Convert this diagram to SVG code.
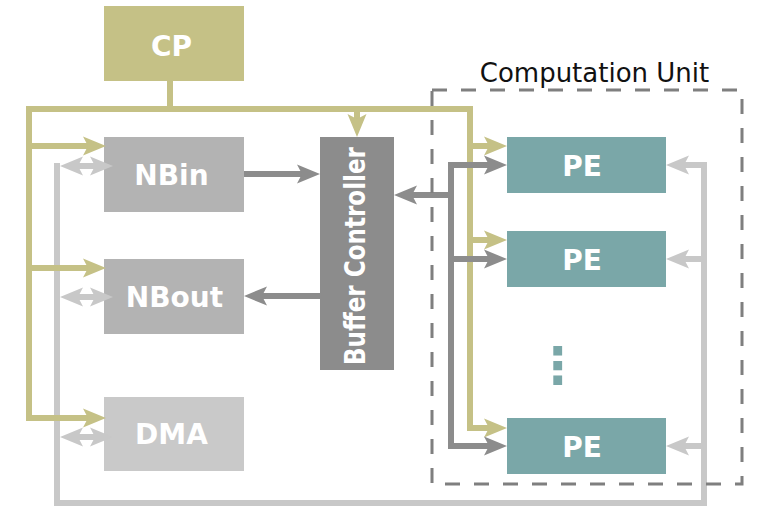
<svg xmlns="http://www.w3.org/2000/svg" width="765" height="519" viewBox="0 0 765 519">
<style>
.lbl{font-family:"DejaVu Sans","Liberation Sans",sans-serif;font-weight:bold;fill:#ffffff;text-anchor:middle}
.ol{fill:none;stroke:#c5c186;stroke-width:6}
.lg{fill:none;stroke:#c8c8c8;stroke-width:6}
.dg{fill:none;stroke:#8c8c8c;stroke-width:6}
.cap{font-family:"DejaVu Sans","Liberation Sans",sans-serif;font-size:26px;fill:#111111;text-anchor:middle}
</style>
<defs>
<marker id="aO" markerUnits="userSpaceOnUse" viewBox="-10 -12 32 24" markerWidth="32" markerHeight="24" refX="0" refY="0" orient="auto-start-reverse"><path d="M18,0 L-5,-9.5 L0,0 L-5,9.5 Z" fill="#c5c186"/></marker>
<marker id="aL" markerUnits="userSpaceOnUse" viewBox="-10 -12 32 24" markerWidth="32" markerHeight="24" refX="0" refY="0" orient="auto-start-reverse"><path d="M18,0 L-5,-9.5 L0,0 L-5,9.5 Z" fill="#c8c8c8"/></marker>
<marker id="aD" markerUnits="userSpaceOnUse" viewBox="-10 -12 32 24" markerWidth="32" markerHeight="24" refX="0" refY="0" orient="auto-start-reverse"><path d="M18,0 L-5,-9.5 L0,0 L-5,9.5 Z" fill="#8c8c8c"/></marker>
</defs>
<g id="nodes">
<g id="cp"><rect x="104" y="6" width="140" height="75" fill="#c5c186"/><text class="lbl" x="171.5" y="56" font-size="28">CP</text></g>
<g id="nbin"><rect x="104" y="137" width="140" height="75" fill="#b3b3b3"/><text class="lbl" x="171.5" y="184.5" font-size="28">NBin</text></g>
<g id="nbout"><rect x="104" y="259" width="140" height="75" fill="#b3b3b3"/><text class="lbl" x="174.5" y="306.5" font-size="28">NBout</text></g>
<g id="dma"><rect x="104" y="397" width="140" height="74" fill="#c9c9c9"/><text class="lbl" x="171.5" y="444" font-size="28">DMA</text></g>
<g id="buffer-controller"><rect x="320" y="137" width="74" height="233" fill="#8c8c8c"/><text class="lbl" transform="translate(365,256) rotate(-90)" x="0" y="0" font-size="29" textLength="218" lengthAdjust="spacingAndGlyphs">Buffer Controller</text></g>
<g id="pe1"><rect x="507" y="137" width="159" height="56" fill="#7aa7a8"/><text class="lbl" x="582" y="176" font-size="28">PE</text></g>
<g id="pe2"><rect x="507" y="231" width="159" height="56" fill="#7aa7a8"/><text class="lbl" x="582" y="270" font-size="28">PE</text></g>
<g id="pe3"><rect x="507" y="418" width="159" height="56" fill="#7aa7a8"/><text class="lbl" x="582" y="457" font-size="28">PE</text></g>
<g id="dots"><text class="lbl" x="557.5" y="383" font-size="50" style="fill:#7aa7a8">⋮</text></g>
</g>
<g id="connectors">
<path class="lg" d="M57,166 V503 H704 V165" stroke-linecap="square"/>
<path class="lg" d="M704,165 H684" marker-end="url(#aL)"/>
<path class="lg" d="M704,259 H684" marker-end="url(#aL)"/>
<path class="lg" d="M704,446 H684" marker-end="url(#aL)"/>
<path class="lg" d="M78,166 H95" marker-start="url(#aL)" marker-end="url(#aL)"/>
<path class="lg" d="M78,297 H95" marker-start="url(#aL)" marker-end="url(#aL)"/>
<path class="lg" d="M78,437 H95" marker-start="url(#aL)" marker-end="url(#aL)"/>
<path class="ol" d="M170,81 V109"/>
<path class="ol" d="M88,418 H29 V109 H470 V428 H489" marker-start="url(#aO)" marker-end="url(#aO)"/>
<path class="ol" d="M29,146 H88" marker-end="url(#aO)"/>
<path class="ol" d="M29,268 H88" marker-end="url(#aO)"/>
<path class="ol" d="M470,146 H489" marker-end="url(#aO)"/>
<path class="ol" d="M470,240 H489" marker-end="url(#aO)"/>
<path class="ol" d="M357,109 V119" marker-end="url(#aO)"/>
<path class="dg" d="M489,165 H451 V446 H489" marker-start="url(#aD)" marker-end="url(#aD)"/>
<path class="dg" d="M451,259 H489" marker-end="url(#aD)"/>
<path class="dg" d="M451,195 H412" marker-end="url(#aD)"/>
<path class="dg" d="M244,174 H302" marker-end="url(#aD)"/>
<path class="dg" d="M320,296 H262" marker-end="url(#aD)"/>
</g>
<g id="computation-unit">
<rect x="432" y="90" width="310" height="394" fill="none" stroke="#7f7f7f" stroke-width="3" stroke-dasharray="15 14"/>
<text class="cap" x="594.5" y="82">Computation Unit</text>
</g>
</svg>
